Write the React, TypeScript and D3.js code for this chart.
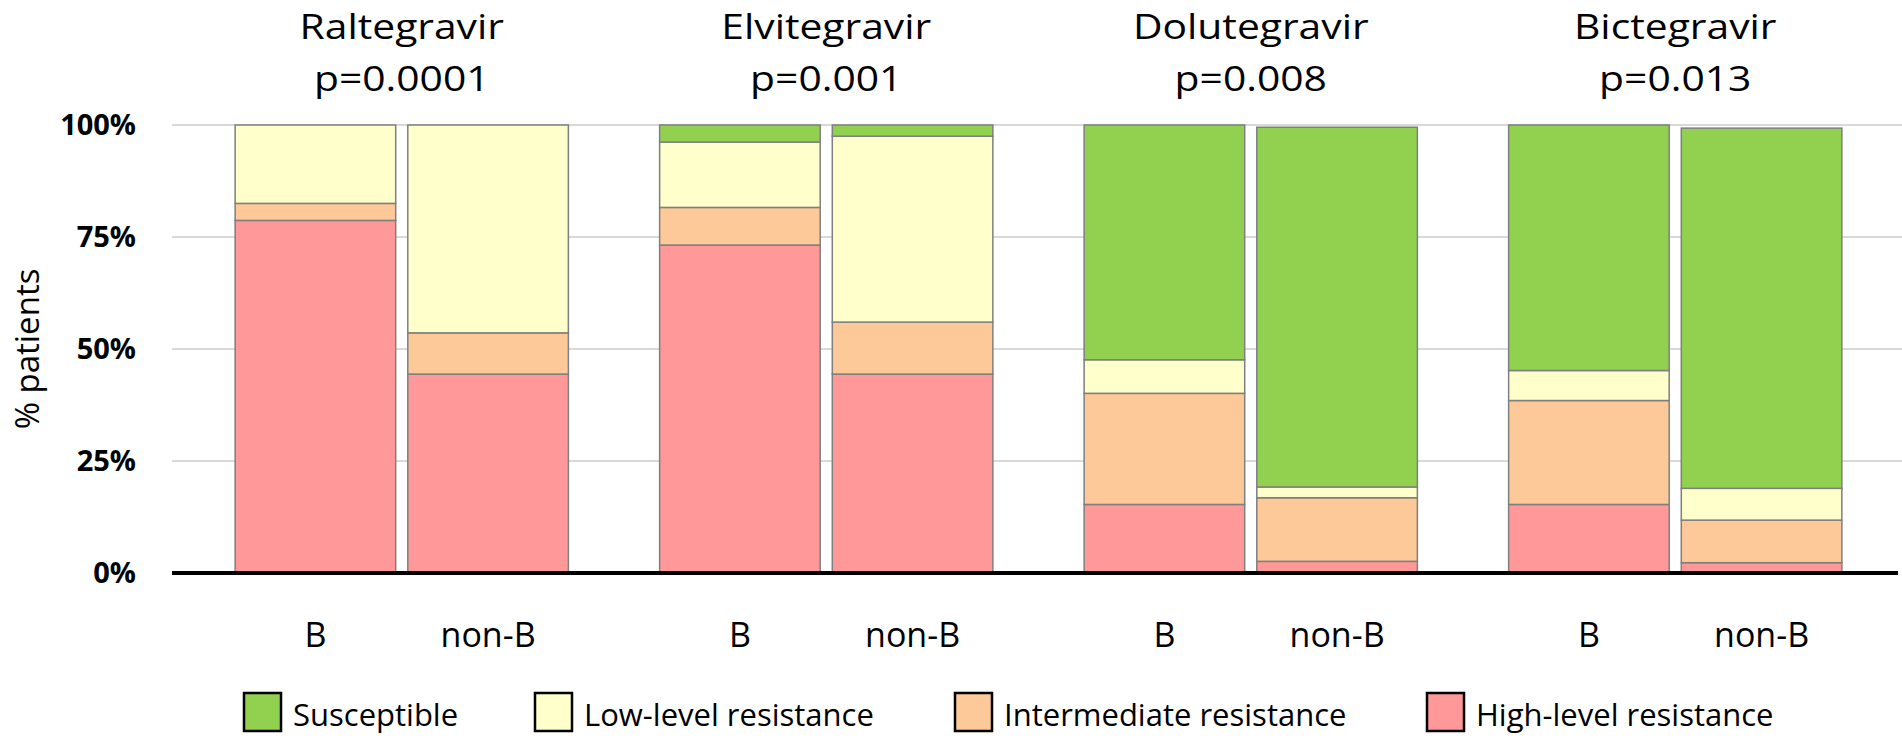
import * as React from 'react';
import * as d3 from 'd3';

// drugs and the p-value printed under each name
const drugs = ['Raltegravir', 'Elvitegravir', 'Dolutegravir', 'Bictegravir'];
const pValues = ['p=0.0001', 'p=0.001', 'p=0.008', 'p=0.013'];
const subtypes = ['B', 'non-B'];

// legend order (left to right) and colours
const levels = ['Susceptible', 'Low-level resistance', 'Intermediate resistance', 'High-level resistance'];
const colours = ['#92d050', '#ffffcc', '#fdc998', '#ff9999'];

// % patients, ordered drug by drug: [B, non-B, B, non-B, ...]
const highLevel = [78.7, 44.4, 73.2, 44.4, 15.3, 2.6, 15.3, 2.3];
const intermediate = [3.8, 9.2, 8.4, 11.6, 24.8, 14.2, 23.2, 9.5];
const lowLevel = [17.5, 46.4, 14.6, 41.5, 7.5, 2.4, 6.7, 7.1];
const susceptible = [0, 0, 3.8, 2.5, 52.4, 80.3, 54.8, 80.4];

const yTicks = [0, 25, 50, 75, 100];

const width = 1902;
const height = 744;
const font = '"Open Sans", sans-serif';

interface Row {
    drug: string;
    subtype: string;
    high: number;
    inter: number;
    low: number;
    susc: number;
}

const rows: Row[] = [];
drugs.forEach((drug, i) => {
    subtypes.forEach((subtype, j) => {
        const k = i * subtypes.length + j;
        rows.push({
            drug,
            subtype,
            high: highLevel[k],
            inter: intermediate[k],
            low: lowLevel[k],
            susc: susceptible[k]
        });
    });
});

// stacked bottom to top
const stackKeys = ['high', 'inter', 'low', 'susc'];
const keyColour: { [k: string]: string } = {
    high: colours[3],
    inter: colours[2],
    low: colours[1],
    susc: colours[0]
};

export default function App() {
    React.useEffect(() => {
        document.body.style.margin = '0';
    }, []);

    const xGroup = d3.scaleBand<string>()
        .domain(drugs)
        .range([189.5, 1887.5])
        .paddingInner(0.215)
        .paddingOuter(0.1075);
    const xSub = d3.scaleBand<string>()
        .domain(subtypes)
        .range([0, xGroup.bandwidth()])
        .paddingInner(0.07);
    const y = d3.scaleLinear().domain([0, 100]).range([573, 125]);

    const series = d3.stack<Row>().keys(stackKeys)(rows);

    const gridX0 = 172;
    const gridX1 = width;

    return (
        <svg width={width} height={height} style={{ display: 'block', background: '#fff' }} fontFamily={font}>
            {yTicks.filter(t => t > 0).map(t => (
                <line key={t} x1={gridX0} x2={gridX1} y1={y(t)} y2={y(t)} stroke="#d9d9d9" strokeWidth={2} />
            ))}

            {series.map(s => (
                <g key={s.key} fill={keyColour[s.key]} stroke="#7f7f7f" strokeWidth={1.5}>
                    {s.map((d, i) => {
                        const r = d.data;
                        const h = y(d[0]) - y(d[1]);
                        if (h <= 0) return null;
                        return (
                            <rect
                                key={i}
                                x={(xGroup(r.drug) ?? 0) + (xSub(r.subtype) ?? 0)}
                                y={y(d[1])}
                                width={xSub.bandwidth()}
                                height={h} />
                        );
                    })}
                </g>
            ))}

            <line x1={gridX0} x2={width - 4} y1={y(0)} y2={y(0)} stroke="#000" strokeWidth={4} />

            {yTicks.map(t => (
                <text key={t} x={136} y={y(t)} dy="0.36em" textAnchor="end" fontSize={29} fontWeight="bold" fill="#000">
                    {t + '%'}
                </text>
            ))}
            <text transform={`translate(39,${(y(0) + y(100)) / 2}) rotate(-90)`} textAnchor="middle" fontSize={33} fill="#000">
                % patients
            </text>

            {drugs.map((drug, i) => {
                const cx = (xGroup(drug) ?? 0) + xGroup.bandwidth() / 2;
                return (
                    <g key={drug}>
                        <text transform={`translate(${cx},39) scale(1.2,1)`} textAnchor="middle" fontSize={34} fill="#000">{drug}</text>
                        <text transform={`translate(${cx},91) scale(1.2,1)`} textAnchor="middle" fontSize={34} fill="#000">{pValues[i]}</text>
                        {subtypes.map(st => (
                            <text
                                key={st}
                                x={(xGroup(drug) ?? 0) + (xSub(st) ?? 0) + xSub.bandwidth() / 2}
                                y={647}
                                textAnchor="middle"
                                fontSize={34}
                                fill="#000">
                                {st}
                            </text>
                        ))}
                    </g>
                );
            })}

            {levels.map((lvl, i) => {
                const lx = [244, 535, 955, 1427][i];
                return (
                    <g key={lvl}>
                        <rect x={lx} y={693} width={37} height={38} fill={colours[i]} stroke="#000" strokeWidth={2.5} />
                        <text x={lx + 49} y={726} fontSize={31} fill="#000">{lvl}</text>
                    </g>
                );
            })}
        </svg>
    );
}
